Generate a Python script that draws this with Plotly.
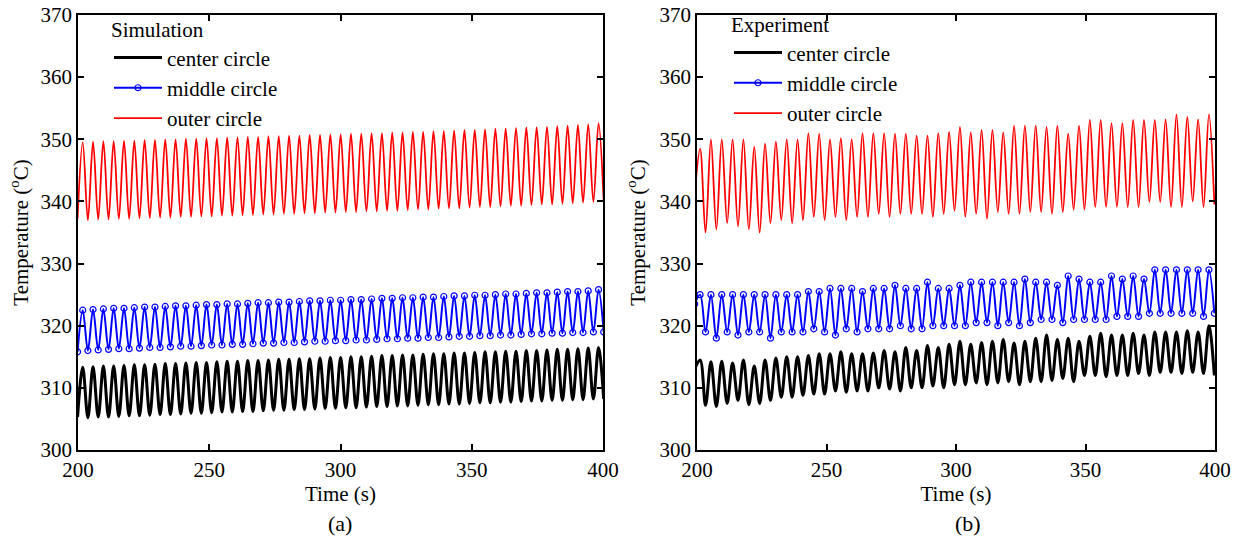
import plotly.graph_objects as go

# ---------------- data ----------------
# Simulation panel: oscillation extremes, period ~3.93 s, first peak ~201.8 s
sim_period = 3.93
sim_first_peak = 201.8
sim_outer_peak = [349.5, 349.6, 349.7, 349.7, 349.8, 349.8, 349.9, 349.9, 350.0, 350.0,
                  350.1, 350.1, 350.2, 350.2, 350.3, 350.3, 350.4, 350.4, 350.5, 350.5,
                  350.6, 350.6, 350.7, 350.7, 350.8, 350.8, 350.9, 350.9, 351.0, 351.0,
                  351.1, 351.1, 351.2, 351.2, 351.3, 351.3, 351.4, 351.5, 351.5, 351.6,
                  351.7, 351.7, 351.8, 351.9, 351.9, 352.0, 352.1, 352.2, 352.3, 352.4, 352.6]
sim_outer_trough = [337.2, 337.0, 337.1, 337.1, 337.2, 337.2, 337.3, 337.3, 337.4, 337.4,
                    337.5, 337.5, 337.6, 337.6, 337.7, 337.7, 337.8, 337.8, 337.9, 337.9,
                    338.0, 338.0, 338.1, 338.1, 338.2, 338.2, 338.3, 338.3, 338.4, 338.4,
                    338.5, 338.5, 338.6, 338.7, 338.7, 338.8, 338.9, 338.9, 339.0, 339.1,
                    339.1, 339.2, 339.3, 339.3, 339.4, 339.5, 339.5, 339.6, 339.7, 339.8, 339.9, 340.0]
sim_middle_peak = [322.5, 322.6, 322.7, 322.8, 322.8, 322.9, 323.0, 323.0, 323.1, 323.2,
                   323.2, 323.3, 323.4, 323.4, 323.5, 323.5, 323.6, 323.7, 323.7, 323.8,
                   323.8, 323.9, 324.0, 324.0, 324.1, 324.1, 324.2, 324.2, 324.3, 324.4,
                   324.4, 324.5, 324.5, 324.6, 324.6, 324.7, 324.8, 324.8, 324.9, 324.9,
                   325.0, 325.1, 325.1, 325.2, 325.3, 325.3, 325.4, 325.5, 325.5, 325.6, 325.8]
sim_middle_trough = [315.8, 316.0, 316.1, 316.2, 316.3, 316.3, 316.4, 316.5, 316.5, 316.6,
                     316.7, 316.7, 316.8, 316.9, 316.9, 317.0, 317.0, 317.1, 317.2, 317.2,
                     317.3, 317.3, 317.4, 317.5, 317.5, 317.6, 317.6, 317.7, 317.7, 317.8,
                     317.9, 317.9, 318.0, 318.0, 318.1, 318.1, 318.2, 318.3, 318.3, 318.4,
                     318.4, 318.5, 318.5, 318.6, 318.7, 318.7, 318.8, 318.8, 318.9, 318.9, 319.0, 319.0]
sim_center_peak = [313.3, 313.4, 313.5, 313.5, 313.6, 313.7, 313.7, 313.8, 313.9, 313.9,
                   314.0, 314.1, 314.1, 314.2, 314.3, 314.3, 314.4, 314.4, 314.5, 314.6,
                   314.6, 314.7, 314.7, 314.8, 314.9, 314.9, 315.0, 315.0, 315.1, 315.2,
                   315.2, 315.3, 315.3, 315.4, 315.5, 315.5, 315.6, 315.6, 315.7, 315.8,
                   315.8, 315.9, 315.9, 316.0, 316.0, 316.1, 316.2, 316.2, 316.3, 316.4, 316.5]
sim_center_trough = [305.3, 305.2, 305.3, 305.3, 305.4, 305.5, 305.5, 305.6, 305.7, 305.7,
                     305.8, 305.9, 305.9, 306.0, 306.1, 306.1, 306.2, 306.2, 306.3, 306.4,
                     306.4, 306.5, 306.5, 306.6, 306.7, 306.7, 306.8, 306.8, 306.9, 307.0,
                     307.0, 307.1, 307.1, 307.2, 307.3, 307.3, 307.4, 307.4, 307.5, 307.6,
                     307.6, 307.7, 307.7, 307.8, 307.9, 307.9, 308.0, 308.0, 308.1, 308.1, 308.2, 308.2]

# Experiment panel: oscillation extremes, period ~4.18 s, first peak ~201.2 s
exp_period = 4.18
exp_first_peak = 201.2
exp_outer_peak = [348.5, 350.0, 350.0, 350.0, 350.0, 348.8, 349.3, 349.6, 350.0, 350.0,
                  351.0, 350.9, 350.0, 350.2, 350.0, 351.0, 351.0, 351.0, 350.9, 350.9,
                  350.6, 350.6, 351.0, 351.2, 352.0, 351.1, 351.5, 351.5, 351.1, 352.2,
                  352.2, 352.2, 352.0, 352.2, 350.9, 352.2, 353.1, 353.1, 352.6, 352.6,
                  353.1, 353.1, 353.1, 353.2, 354.0, 353.6, 353.2, 354.0]
exp_outer_trough = [341.0,
                    335.0, 335.5, 336.5, 336.0, 335.5, 335.0, 336.5, 337.0, 336.5, 337.0,
                    337.5, 337.0, 337.5, 337.0, 337.5, 337.5, 338.0, 337.5, 338.0, 338.0,
                    338.0, 337.5, 338.0, 338.5, 337.5, 338.0, 337.2, 338.3, 338.0, 338.0,
                    338.3, 338.3, 338.0, 338.3, 338.7, 338.7, 339.1, 339.1, 339.1, 339.1,
                    339.1, 339.9, 339.9, 339.1, 339.1, 340.0, 339.1, 339.5]
exp_middle_peak = [325.0, 325.0, 325.0, 325.0, 325.0, 325.0, 325.0, 325.0, 325.0, 325.0,
                   325.5, 325.5, 326.0, 326.0, 326.0, 325.5, 326.0, 326.0, 326.5, 326.0,
                   326.0, 327.0, 326.0, 326.0, 326.5, 327.0, 327.0, 327.0, 327.0, 327.0,
                   327.5, 327.0, 327.0, 326.5, 328.0, 327.5, 327.0, 327.0, 328.0, 327.5,
                   328.0, 327.5, 329.0, 329.0, 329.0, 329.0, 329.0, 329.0]
exp_middle_trough = [323.5,
                     319.0, 318.0, 319.0, 318.5, 319.0, 319.0, 318.0, 319.0, 319.0, 319.0,
                     319.5, 319.0, 318.5, 319.5, 319.0, 319.5, 319.5, 319.5, 320.0, 319.5,
                     319.5, 320.0, 320.0, 320.0, 320.0, 320.5, 320.5, 320.0, 320.5, 320.0,
                     320.5, 321.0, 321.0, 320.5, 321.0, 321.0, 321.0, 321.0, 321.5, 321.5,
                     321.5, 322.0, 322.0, 322.0, 322.0, 322.0, 321.5, 322.0]
exp_center_peak = [314.5, 314.2, 314.3, 314.0, 314.5, 313.5, 314.5, 314.8, 315.0, 315.0,
                   315.2, 315.5, 315.5, 315.8, 315.5, 315.5, 315.6, 316.0, 315.8, 316.5,
                   316.0, 316.8, 316.5, 317.0, 317.5, 317.0, 317.3, 317.5, 317.8, 317.2,
                   317.5, 318.0, 318.5, 317.8, 318.0, 317.5, 318.3, 318.8, 318.5, 318.5,
                   318.8, 318.5, 319.0, 319.0, 319.0, 319.2, 319.0, 320.0]
exp_center_trough = [313.0,
                     307.2, 307.0, 307.5, 308.0, 307.3, 307.5, 308.0, 308.5, 308.5, 308.8,
                     309.0, 309.0, 309.5, 309.3, 309.5, 309.5, 310.0, 309.8, 309.5, 310.0,
                     310.0, 310.3, 310.0, 310.5, 310.5, 310.8, 310.5, 310.8, 311.0, 310.5,
                     311.0, 311.0, 311.2, 311.5, 311.0, 312.0, 312.0, 311.8, 312.0, 312.0,
                     312.3, 312.0, 312.5, 312.5, 312.3, 312.5, 312.3, 312.0]

series_names = ["center circle", "middle circle", "outer circle"]
x_ticks = [200, 250, 300, 350, 400]
y_ticks = [300, 310, 320, 330, 340, 350, 360, 370]


def extremes(first_peak, period, peaks, troughs):
    """Interleave troughs/peaks on the sampling time grid of one panel."""
    t, v = [], []
    for k, tr in enumerate(troughs):
        t.append(first_peak - period / 2 + k * period)
        v.append(tr)
        if k < len(peaks):
            t.append(first_peak + k * period)
            v.append(peaks[k])
    return t, v


FONT = "Liberation Serif"
FS = 21
fig = go.Figure()

panels = [
    ("x", "y", "legend", sim_first_peak, sim_period,
     [(sim_center_peak, sim_center_trough), (sim_middle_peak, sim_middle_trough),
      (sim_outer_peak, sim_outer_trough)]),
    ("x2", "y2", "legend2", exp_first_peak, exp_period,
     [(exp_center_peak, exp_center_trough), (exp_middle_peak, exp_middle_trough),
      (exp_outer_peak, exp_outer_trough)]),
]

for xa, ya, lg, fp, per, data in panels:
    for i, (pk, tr) in enumerate(data):
        t, v = extremes(fp, per, pk, tr)
        if i == 0:
            fig.add_trace(go.Scatter(x=t, y=v, xaxis=xa, yaxis=ya, legend=lg, name=series_names[0],
                                     mode="lines", line=dict(color="black", width=3, shape="spline", smoothing=1)))
        elif i == 1:
            fig.add_trace(go.Scatter(x=t, y=v, xaxis=xa, yaxis=ya, legend=lg, name=series_names[1],
                                     mode="lines+markers",
                                     line=dict(color="#0000ff", width=2, shape="spline", smoothing=1),
                                     marker=dict(symbol="circle-open", size=6, color="#0000ff",
                                                 line=dict(width=1.2, color="#0000ff"))))
        else:
            fig.add_trace(go.Scatter(x=t, y=v, xaxis=xa, yaxis=ya, legend=lg, name=series_names[2],
                                     mode="lines", line=dict(color="#ff0000", width=1.8, shape="spline", smoothing=1)))

# The page body margin is removed (see post_script), so the figure fills the window exactly.
W, H = 1242, 545


def px_x(p):
    return p / W


def px_y(p):
    return 1 - p / H


axis_common = dict(showline=True, linecolor="black", linewidth=1.5, mirror="ticks",
                   ticks="inside", ticklen=6, tickwidth=1.5, tickcolor="black",
                   showgrid=False, zeroline=False, automargin=False,
                   tickfont=dict(family=FONT, size=FS, color="black"))

xdom_a = [px_x(78), px_x(603)]
xdom_b = [px_x(697), px_x(1215)]
ydom = [px_y(450), px_y(15)]

title_font = dict(family=FONT, size=FS, color="black")
fig.update_layout(
    template="none",
    width=W, height=H, margin=dict(l=0, r=0, t=0, b=0, autoexpand=False),
    paper_bgcolor="white", plot_bgcolor="white",
    font=dict(family=FONT, color="black", size=FS),
    showlegend=True,
    xaxis=dict(domain=xdom_a, range=[200, 400], tickvals=x_ticks, anchor="y",
               title=dict(text="Time (s)", font=title_font, standoff=4), **axis_common),
    yaxis=dict(domain=ydom, range=[300, 370], tickvals=y_ticks, anchor="x",
               title=dict(text="Temperature (<sup>o</sup>C)", font=title_font, standoff=6),
               **axis_common),
    xaxis2=dict(domain=xdom_b, range=[200, 400], tickvals=x_ticks, anchor="y2",
                title=dict(text="Time (s)", font=title_font, standoff=4), **axis_common),
    yaxis2=dict(domain=ydom, range=[300, 370], tickvals=y_ticks, anchor="x2",
                title=dict(text="Temperature (<sup>o</sup>C)", font=title_font, standoff=8),
                **axis_common),
    legend=dict(x=px_x(109), y=px_y(10), xanchor="left", yanchor="top",
                bgcolor="rgba(0,0,0,0)", font=dict(family=FONT, size=FS),
                title=dict(text="Simulation", font=dict(family=FONT, size=FS), side="top"),
                itemwidth=48),
    legend2=dict(x=px_x(729), y=px_y(5), xanchor="left", yanchor="top",
                 bgcolor="rgba(0,0,0,0)", font=dict(family=FONT, size=FS),
                 title=dict(text="Experiment", font=dict(family=FONT, size=FS), side="top"),
                 itemwidth=48),
    annotations=[
        dict(text="(a)", x=px_x(340), y=px_y(523), xref="paper", yref="paper", showarrow=False,
             xanchor="center", yanchor="middle", font=dict(family=FONT, size=22, color="black")),
        dict(text="(b)", x=px_x(968), y=px_y(523), xref="paper", yref="paper", showarrow=False,
             xanchor="center", yanchor="middle", font=dict(family=FONT, size=22, color="black")),
    ],
)

fig.write_html("out.html", config={"displayModeBar": False},
               post_script="document.body.style.margin='0';document.body.style.overflow='hidden';")
